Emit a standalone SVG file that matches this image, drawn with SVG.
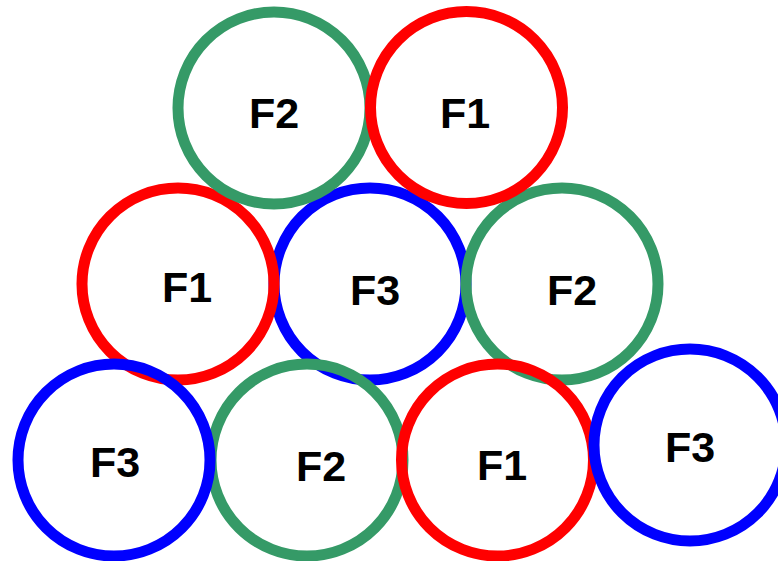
<svg xmlns="http://www.w3.org/2000/svg" width="778" height="561" viewBox="0 0 778 561">
<style>
.c{fill:none;stroke-width:11}
.g{stroke:#359a67}.r{stroke:#ff0000}.b{stroke:#0000ff}
text{font-family:"Liberation Sans",Arial,sans-serif;font-weight:bold;font-size:43px;text-anchor:middle;fill:#000}
</style>
<rect width="778" height="561" fill="#fff"/>
<g id="n5"><circle class="c b" cx="370" cy="284" r="96"/><text x="375" y="305">F3</text></g>
<g id="n4"><circle class="c r" cx="178" cy="284" r="96"/><text x="187" y="302">F1</text></g>
<g id="n6"><circle class="c g" cx="562" cy="284" r="96"/><text x="572" y="305">F2</text></g>
<g id="n1"><circle class="c g" cx="274" cy="108" r="96"/><text x="274" y="128">F2</text></g>
<g id="n2"><circle class="c r" cx="466.5" cy="107.5" r="96"/><text x="465" y="128">F1</text></g>
<g id="n8"><circle class="c g" cx="307" cy="460" r="96"/><text x="321" y="481">F2</text></g>
<g id="n7"><circle class="c b" cx="114" cy="460" r="96"/><text x="115" y="477">F3</text></g>
<g id="n9"><circle class="c r" cx="497.5" cy="460" r="96"/><text x="502" y="480">F1</text></g>
<g id="n10"><circle class="c b" cx="690" cy="445" r="96"/><text x="690" y="462">F3</text></g>
<g id="connectors"></g>
</svg>
